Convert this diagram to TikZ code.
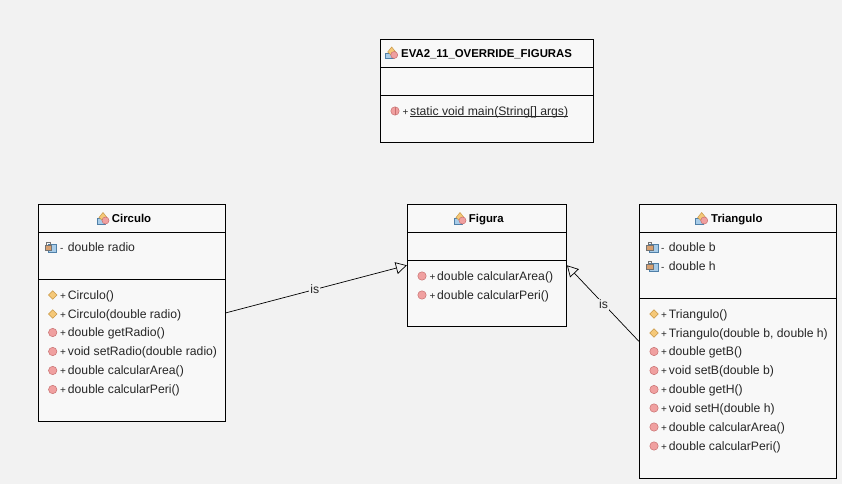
\documentclass[tikz,border=0pt]{standalone}
\usepackage{fontspec}
\setmainfont{Liberation Sans}
\usepackage{xcolor}
\usetikzlibrary{arrows.meta}

\definecolor{bgcol}{HTML}{F2F2F2}
\definecolor{boxcol}{HTML}{F8F8F8}
\definecolor{methcol}{HTML}{F0A0A0}
\definecolor{methline}{HTML}{C87070}
\definecolor{ctorcol}{HTML}{F5C878}
\definecolor{ctorline}{HTML}{C89848}
\definecolor{fieldcol}{HTML}{A8CCE8}
\definecolor{fieldline}{HTML}{5080A8}
\definecolor{lockcol}{HTML}{D8A070}

\newcommand{\vis}[1]{\makebox[7.7pt][l]{\fontsize{10}{10}\selectfont #1}}

\tikzset{
  umlbox/.style={draw=black, fill=boxcol, line width=0.9pt, inner sep=0pt},
  sepline/.style={draw=black, line width=0.9pt},
  titletext/.style={anchor=west, inner sep=0pt, font=\fontsize{11.4}{12}\selectfont\bfseries,
    text height=11pt, text depth=2.5pt},
  rowtext/.style={anchor=west, inner sep=0pt, font=\fontsize{12.2}{13}\selectfont,
    text height=11pt, text depth=2.5pt, text=black!85},
  islabel/.style={fill=bgcol, inner sep=1pt, font=\fontsize{12.2}{13}\selectfont, text=black!85},
  isarrow/.style={draw=black, line width=0.7pt,
    -{Triangle[open, length=11pt, width=12pt, fill=bgcol]}},
  methicon/.pic={
    \fill[methcol] (0,0) circle (4.2);
    \draw[methline, line width=0.5pt] (0,0) circle (4.2);
  },
  staticicon/.pic={
    \fill[methcol] (0,0) circle (4.2);
    \draw[methline, line width=0.5pt] (0,0) circle (4.2);
    \draw[methline, line width=0.8pt] (0,-4) -- (0,4);
  },
  ctoricon/.pic={
    \filldraw[fill=ctorcol, draw=ctorline, line width=0.5pt]
      (-4.3,0) -- (0,-4.3) -- (4.3,0) -- (0,4.3) -- cycle;
  },
  fieldicon/.pic={
    \filldraw[fill=fieldcol, draw=fieldline, line width=0.5pt] (-2.5,-2.5) rectangle (6,5);
    \filldraw[fill=lockcol, draw=black!55, line width=0.5pt] (-5.5,-2) rectangle (1,3);
    \draw[black!55, line width=0.7pt] (-4,-2) -- (-4,-4.5) -- (-0.5,-4.5) -- (-0.5,-2);
  },
  classicon/.pic={
    \filldraw[fill=fieldcol, draw=fieldline, line width=0.5pt] (-6,0) rectangle (2,5.5);
    \filldraw[fill=ctorcol, draw=ctorline, line width=0.5pt]
      (-4,-1) -- (0,-6) -- (4,-1) -- (0,2.5) -- cycle;
    \filldraw[fill=methcol, draw=methline, line width=0.5pt] (2.5,2) circle (3.5);
  }
}

\begin{document}
\begin{tikzpicture}[x=1pt, y=-1pt]
    \fill[bgcol] (0,0) rectangle (842,484);
    \useasboundingbox (0,0) rectangle (842,484);

    % main class
    \node[umlbox, minimum width=213pt, minimum height=103pt] (eva) at (486.8, 90.9){};
    \draw[sepline] (380.3, 67.3) -- (593.3, 67.3);
    \draw[sepline] (380.3, 95.3) -- (593.3, 95.3);
    \pic at (391.7, 53) {classicon};
    \node[titletext](evaTitle) at (401, 53){EVA2\_11\_OVERRIDE\_FIGURAS};
    \pic at (395, 111) {staticicon};
    \node[rowtext](evaMain) at (402.3, 111){\vis{+}\underline{\smash{static void main(String[] args)}}};

    % Circulo
    \node[umlbox, minimum width=187.4pt, minimum height=216.5pt] (circulo) at (132, 312.8){};
    \draw[sepline] (38.3, 232.5) -- (225.7, 232.5);
    \draw[sepline] (38.3, 279.5) -- (225.7, 279.5);
    \pic at (103, 218.5) {classicon};
    \node[titletext](circuloTitle) at (111.7, 218.5){Circulo};
    \pic at (50.7, 247) {fieldicon};
    \node[rowtext](circuloRadio) at (60, 247){\vis{-}double radio};
    \pic at (52.7, 295) {ctoricon};
    \node[rowtext](circuloCtorA) at (60, 295){\vis{+}Circulo()};
    \pic at (52.7, 314) {ctoricon};
    \node[rowtext](circuloCtorB) at (60, 314){\vis{+}Circulo(double radio)};
    \pic at (52.7, 332.5) {methicon};
    \node[rowtext](circuloGet) at (60, 332.5){\vis{+}double getRadio()};
    \pic at (52.7, 351.5) {methicon};
    \node[rowtext](circuloSet) at (60, 351.5){\vis{+}void setRadio(double radio)};
    \pic at (52.7, 370.5) {methicon};
    \node[rowtext](circuloArea) at (60, 370.5){\vis{+}double calcularArea()};
    \pic at (52.7, 389.5) {methicon};
    \node[rowtext](circuloPeri) at (60, 389.5){\vis{+}double calcularPeri()};

    % Figura
    \node[umlbox, minimum width=159.2pt, minimum height=121.5pt] (figura) at (486.9, 265.3){};
    \draw[sepline] (407.3, 232.5) -- (566.5, 232.5);
    \draw[sepline] (407.3, 260.5) -- (566.5, 260.5);
    \pic at (460, 218.5) {classicon};
    \node[titletext](figuraTitle) at (468.7, 218.5){Figura};
    \pic at (422, 276) {methicon};
    \node[rowtext](figuraArea) at (429.3, 276){\vis{+}double calcularArea()};
    \pic at (422, 295) {methicon};
    \node[rowtext](figuraPeri) at (429.3, 295){\vis{+}double calcularPeri()};

    % Triangulo
    \node[umlbox, minimum width=197.4pt, minimum height=273.5pt] (triangulo) at (738, 341.3){};
    \draw[sepline] (639.3, 232.5) -- (836.7, 232.5);
    \draw[sepline] (639.3, 298.5) -- (836.7, 298.5);
    \pic at (701.7, 218.5) {classicon};
    \node[titletext](trianguloTitle) at (711, 218.5){Triangulo};
    \pic at (652, 247) {fieldicon};
    \node[rowtext](trianguloB) at (661, 247){\vis{-}double b};
    \pic at (652, 266) {fieldicon};
    \node[rowtext](trianguloH) at (661, 266){\vis{-}double h};
    \pic at (654, 314) {ctoricon};
    \node[rowtext](trianguloCtorA) at (661, 314){\vis{+}Triangulo()};
    \pic at (654, 333) {ctoricon};
    \node[rowtext](trianguloCtorB) at (661, 333){\vis{+}Triangulo(double b, double h)};
    \pic at (654, 351.5) {methicon};
    \node[rowtext](trianguloGetB) at (661, 351.5){\vis{+}double getB()};
    \pic at (654, 370.5) {methicon};
    \node[rowtext](trianguloSetB) at (661, 370.5){\vis{+}void setB(double b)};
    \pic at (654, 389.5) {methicon};
    \node[rowtext](trianguloGetH) at (661, 389.5){\vis{+}double getH()};
    \pic at (654, 408) {methicon};
    \node[rowtext](trianguloSetH) at (661, 408){\vis{+}void setH(double h)};
    \pic at (654, 427) {methicon};
    \node[rowtext](trianguloArea) at (661, 427){\vis{+}double calcularArea()};
    \pic at (654, 446) {methicon};
    \node[rowtext](trianguloPeri) at (661, 446){\vis{+}double calcularPeri()};

    % is relations
    \draw[isarrow] (circulo.east) -- node[islabel, pos=0.49](isCirculo){is} (figura.west);
    \draw[isarrow] (triangulo.west) -- node[islabel, pos=0.49](isTriangulo){is} (figura.east);
\end{tikzpicture}
\end{document}
